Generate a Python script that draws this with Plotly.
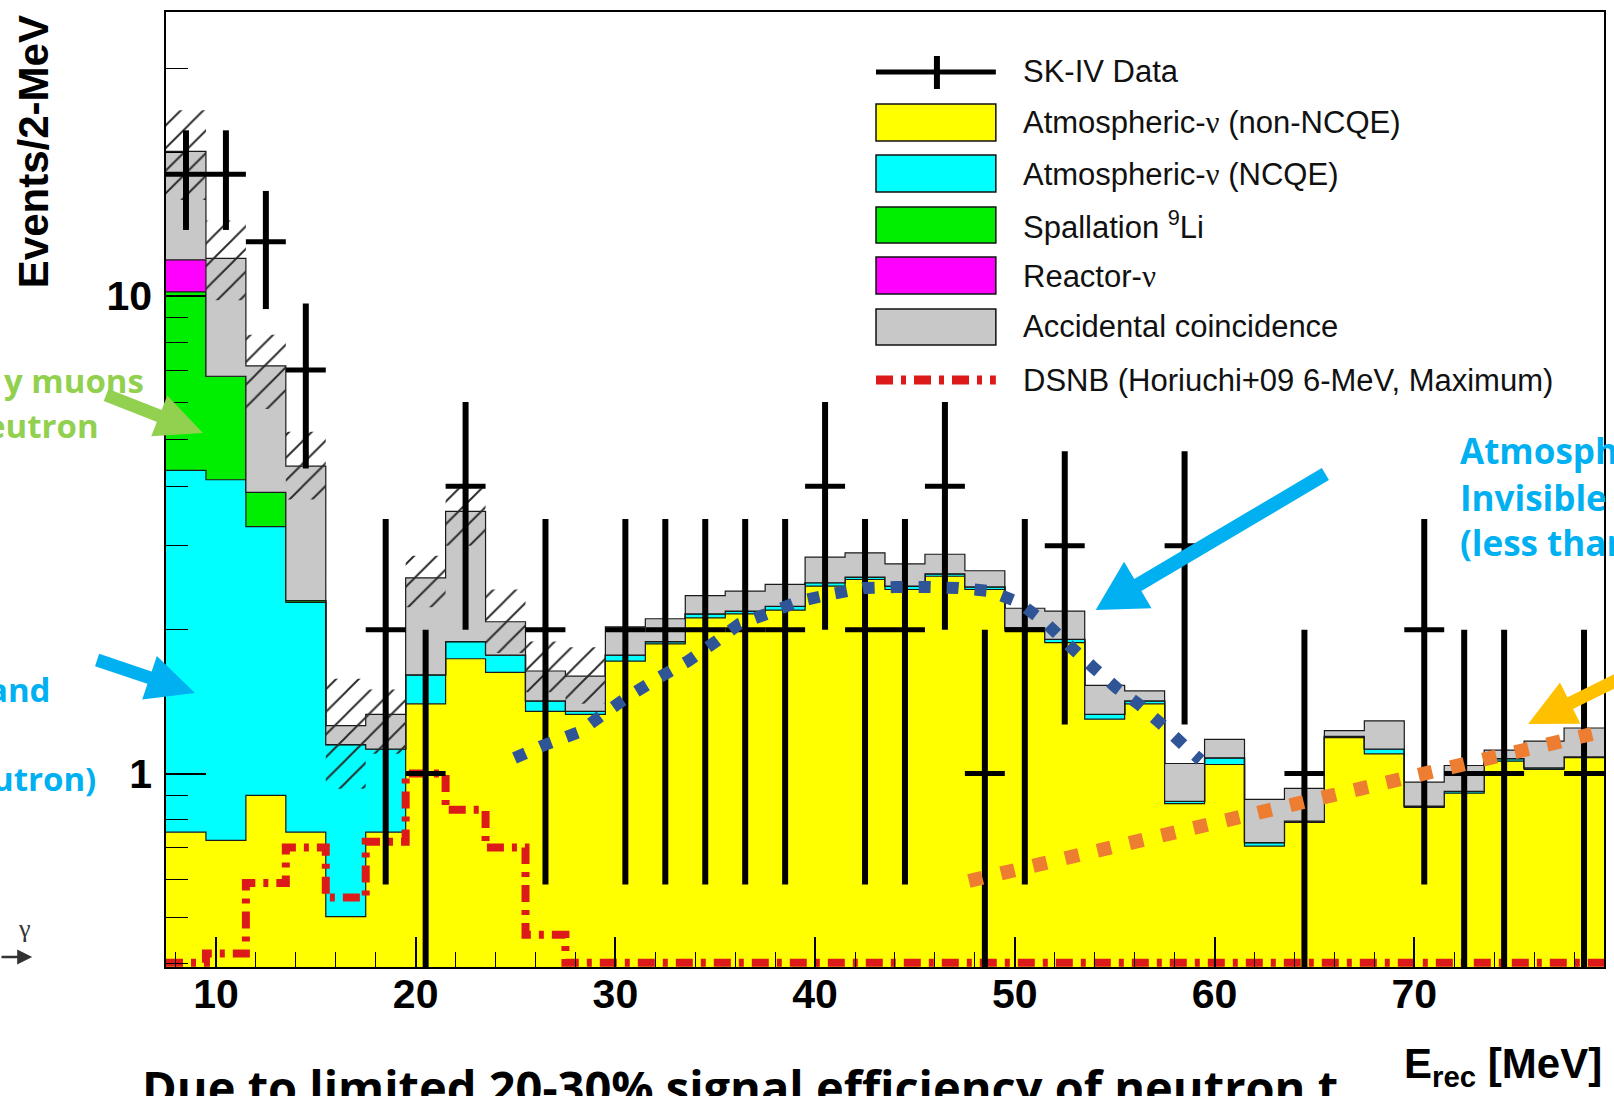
import numpy as np
import plotly.graph_objects as go

# ---------------- data: SK-IV neutron-tagged DSNB search spectrum ----------------
# reconstructed-energy bin centres [MeV], 2-MeV bins from 7.5 to 79.5 MeV
e_center = [8.5, 10.5, 12.5, 14.5, 16.5, 18.5, 20.5, 22.5, 24.5, 26.5, 28.5, 30.5,
            32.5, 34.5, 36.5, 38.5, 40.5, 42.5, 44.5, 46.5, 48.5, 50.5, 52.5, 54.5,
            56.5, 58.5, 60.5, 62.5, 64.5, 66.5, 68.5, 70.5, 72.5, 74.5, 76.5, 78.5]
BIN_HALF = 1.0

# observed events per bin
sk4_data = [18, 18, 13, 7, 0, 2, 1, 4, 0, 2, 0, 2, 2, 2, 2, 2, 4, 2, 2, 4, 1, 2, 3, 0,
            0, 3, 0, 0, 1, 0, 0, 2, 1, 1, 0, 1]

# background components (events / 2 MeV), stacked bottom -> top
atm_non_ncqe = [0.754, 0.725, 0.90, 0.754, 0.502, 0.754, 1.40, 1.74, 1.63, 1.35, 1.33, 1.72,
                1.87, 2.12, 2.16, 2.20, 2.47, 2.55, 2.43, 2.59, 2.43, 1.99, 1.88, 1.30,
                1.40, 0.865, 1.045, 0.705, 0.79, 1.19, 1.10, 0.85, 0.91, 1.062, 1.02, 1.08]
atm_ncqe = [3.56, 3.40, 2.39, 1.53, 0.648, 0.372, 0.21, 0.15, 0.14, 0.07, 0.02, 0.05,
            0.02, 0.04, 0.03, 0.04, 0.04, 0.03, 0.04, 0.03, 0.03, 0.03, 0.03, 0.03,
            0.02, 0.01, 0.034, 0.012, 0.005, 0.007, 0.026, 0.005, 0.008, 0.013, 0.008, 0.004]
spall_li9 = [5.89, 2.67, 0.59, 0.02, 0, 0, 0, 0, 0, 0, 0, 0,
             0, 0, 0, 0, 0, 0, 0, 0, 0, 0, 0, 0,
             0, 0, 0, 0, 0, 0, 0, 0, 0, 0, 0, 0]
reactor_nu = [1.7, 0, 0, 0, 0, 0, 0, 0, 0, 0, 0, 0,
              0, 0, 0, 0, 0, 0, 0, 0, 0, 0, 0, 0,
              0, 0, 0, 0, 0, 0, 0, 0, 0, 0, 0, 0]
accidental = [8.2, 5.2, 3.26, 2.1, 0.11, 0.204, 0.96, 1.65, 0.31, 0.22, 0.25, 0.26,
              0.22, 0.20, 0.22, 0.25, 0.33, 0.32, 0.28, 0.26, 0.20, 0.20, 0.28, 0.20,
              0.07, 0.175, 0.10, 0.166, 0.136, 0.033, 0.164, 0.105, 0.122, 0.045, 0.142, 0.162]

# systematic band on the total background (first 11 bins)
sys_hi = [24.5, 14.4, 8.3, 5.2, 1.58, 1.50, 2.86, 3.96, 2.43, 1.89, 1.84]
sys_lo = [15.9, 9.8, 5.8, 3.75, 0.93, 1.10, 2.23, 3.0, 1.79, 1.48, 1.40]

# DSNB expectation (Horiuchi+09, 6 MeV, maximum)
dsnb = [0.35, 0.42, 0.59, 0.70, 0.55, 0.72, 1.00, 0.84, 0.70, 0.46, 0.40, 0.30,
        0.24, 0.19, 0.15, 0.12, 0.095, 0.075, 0.06, 0.047, 0.037, 0.03, 0.024, 0.019,
        0.015, 0.012, 0.0095, 0.0075, 0.006, 0.0047, 0.0037, 0.003, 0.0024, 0.0019, 0.0015, 0.0012]

x_ticks = [10, 20, 30, 40, 50, 60, 70]
x_minor = [8, 12, 14, 16, 18, 22, 24, 26, 28, 32, 34, 36, 38, 42, 44, 46, 48,
           52, 54, 56, 58, 62, 64, 66, 68, 72, 74, 76, 78]
y_ticks = [1, 10]
y_ticktext = ["1", "10"]
y_minor = [0.4, 0.5, 0.6, 0.7, 0.8, 0.9, 2, 3, 4, 5, 6, 7, 8, 9, 20, 30]

X_RANGE = [7.5, 79.5]
Y_RANGE = [-0.405, 1.595]   # log10 of the y limits

# ---------------- geometry helpers ----------------
FIG_W, FIG_H = 1614, 1096
PL, PR, PT, PB = 166, 1606, 12, 967


def fx(x):
    return (x - PL) / (PR - PL)


def fy(y):
    return (PB - y) / (PB - PT)


edges = [c - BIN_HALF for c in e_center] + [e_center[-1] + BIN_HALF]


def step_y(vals):
    v = list(vals)
    return v + [v[-1]]


fig = go.Figure()

# ---------------- stacked backgrounds ----------------
fig.add_trace(go.Scatter(x=edges, y=[0.01] * len(edges), mode="lines",
                         line=dict(width=0), hoverinfo="skip", showlegend=False))
layers = [
    (atm_non_ncqe, "#ffff00"),
    (atm_ncqe, "#00ffff"),
    (spall_li9, "#00ee00"),
    (reactor_nu, "#ff00ff"),
    (accidental, "#c8c8c8"),
]
cum = np.zeros(len(e_center))
for vals, col in layers:
    cum = cum + np.array(vals, dtype=float)
    fig.add_trace(go.Scatter(x=edges, y=step_y(cum), mode="lines",
                             line=dict(color="#1a1a1a", width=1.2, shape="hv"),
                             fill="tonexty", fillcolor=col,
                             hoverinfo="skip", showlegend=False))

# ---------------- systematic hatch ----------------
n_sys = len(sys_hi)
fig.add_trace(go.Scatter(x=edges[:n_sys + 1], y=step_y(sys_lo), mode="lines",
                         line=dict(width=0, shape="hv"), hoverinfo="skip", showlegend=False))
fig.add_trace(go.Scatter(x=edges[:n_sys + 1], y=step_y(sys_hi), mode="lines",
                         line=dict(width=0, shape="hv"), fill="tonexty",
                         fillcolor="rgba(0,0,0,0)",
                         fillpattern=dict(shape="/", fgcolor="#2a2a2a", bgcolor="rgba(0,0,0,0)",
                                          size=16, solidity=0.12, fillmode="replace"),
                         hoverinfo="skip", showlegend=False))

# ---------------- DSNB expectation (clamped onto the frame floor) ----------------
floor = 10 ** (Y_RANGE[0] + 0.009)
dsnb_draw = [max(v, floor) for v in dsnb]
fig.add_trace(go.Scatter(x=edges, y=step_y(dsnb_draw), mode="lines",
                         line=dict(color="#dd1a1a", width=8, shape="hv",
                                   dash="17px,8px,5px,8px"),
                         hoverinfo="skip", showlegend=False))

# ---------------- data points ----------------
data_y = [v if v > 0 else None for v in sk4_data]
data_err = [float(np.sqrt(v)) if v > 0 else None for v in sk4_data]
fig.add_trace(go.Scatter(x=e_center, y=data_y, mode="markers",
                         marker=dict(color="black", size=7),
                         error_y=dict(type="data", array=data_err, color="black",
                                      thickness=6, width=0),
                         error_x=dict(type="constant", value=BIN_HALF, color="black",
                                      thickness=5, width=0),
                         hoverinfo="skip", showlegend=False))

# ---------------- shapes: legend, overlay arrows, guide curves ----------------
shapes = []


def pline(x0, y0, x1, y1, color, width, dash=None):
    ln = dict(color=color, width=width)
    if dash:
        ln["dash"] = dash
    shapes.append(dict(type="line", xref="paper", yref="paper",
                       x0=fx(x0), y0=fy(y0), x1=fx(x1), y1=fy(y1),
                       line=ln, layer="above"))


def prect(x0, y0, x1, y1, color):
    shapes.append(dict(type="rect", xref="paper", yref="paper",
                       x0=fx(x0), y0=fy(y0), x1=fx(x1), y1=fy(y1),
                       fillcolor=color, line=dict(color="#111111", width=1.5),
                       layer="above"))


def ppath(points, color, width, dash):
    d = "M " + " L ".join(f"{fx(x):.5f},{fy(y):.5f}" for x, y in points)
    shapes.append(dict(type="path", xref="paper", yref="paper", path=d,
                       line=dict(color=color, width=width, dash=dash), layer="above"))


def arrow(tail, tip, shaft_w, head_len, head_half, color):
    t = np.array(tail, float)
    p = np.array(tip, float)
    d = p - t
    d = d / np.hypot(d[0], d[1])
    n = np.array([-d[1], d[0]])
    base = p - d * head_len
    c1 = base + n * head_half
    c2 = base - n * head_half
    end = base + d * 3
    pline(t[0], t[1], end[0], end[1], color, shaft_w)
    path = (f"M {fx(p[0]):.5f},{fy(p[1]):.5f} L {fx(c1[0]):.5f},{fy(c1[1]):.5f} "
            f"L {fx(c2[0]):.5f},{fy(c2[1]):.5f} Z")
    shapes.append(dict(type="path", xref="paper", yref="paper", path=path,
                       fillcolor=color, line=dict(width=0), layer="above"))


# legend swatches
LX0, LX1 = 877, 997
pline(LX0, 72, LX1, 72, "black", 5)
pline(938, 56, 938, 89, "black", 6)
prect(LX0, 104, LX1, 141, "#ffff00")
prect(LX0, 155, LX1, 192, "#00ffff")
prect(LX0, 207, LX1, 243, "#00ee00")
prect(LX0, 257, LX1, 294, "#ff00ff")
prect(LX0, 309, LX1, 345, "#c8c8c8")
pline(LX0, 380, LX1, 380, "#dd1a1a", 9, "17px,8px,5px,8px")

# guide curves
blue_curve = [(515, 758), (545, 745), (580, 732), (604, 714), (631, 695), (659, 678),
              (689, 661), (716, 642), (740, 624), (770, 613), (801, 601), (833, 594),
              (865, 588), (896, 587), (928, 587), (959, 588), (991, 591), (1019, 602),
              (1046, 622), (1070, 645), (1094, 667), (1118, 688), (1141, 705),
              (1165, 726), (1185, 745), (1202, 760)]
ppath(blue_curve, "#2f5597", 12, "12px,16px")
ppath([(970, 881), (1594, 734)], "#ed7d31", 14, "14px,19px")

# arrows
arrow((106, 395), (203, 433), 13, 47, 22, "#92d050")
arrow((97, 660), (195, 693), 13, 48, 23, "#00b0f0")
arrow((1327, 474), (1097, 610), 14, 49, 27, "#00b0f0")
arrow((1682, 649), (1530, 724), 13, 47, 23, "#ffc000")

# ---------------- annotations ----------------
annots = []


def text(x, y, s, size, color="black", family="Liberation Sans", weight="normal",
         xanchor="left", yanchor="middle", angle=0):
    annots.append(dict(x=fx(x), y=fy(y), xref="paper", yref="paper", text=s,
                       showarrow=False, xanchor=xanchor, yanchor=yanchor, textangle=angle,
                       font=dict(family=family, size=size, color=color, weight=weight)))


nu = "<span style='font-family:Liberation Serif'>ν</span>"
legend_rows = [
    (72, "SK-IV Data"),
    (123, f"Atmospheric-{nu} (non-NCQE)"),
    (174, f"Atmospheric-{nu} (NCQE)"),
    (225, "Spallation <sup>9</sup>Li"),
    (276, f"Reactor-{nu}"),
    (327, "Accidental coincidence"),
    (380, "DSNB (Horiuchi+09 6-MeV, Maximum)"),
]
for yy, s in legend_rows:
    text(1022, yy, s, 31, color="#111111")

# axis titles
text(33, 152, "Events/2-MeV", 42, weight="bold", xanchor="center", angle=-90)
text(1606, 1066, "E<sub>rec</sub> [MeV]", 42, weight="bold", xanchor="right")

# slide call-outs
GREEN, BLUE = "#92d050", "#00b0f0"
text(146, 380, "y muons", 33, GREEN, "Open Sans", 700, xanchor="right")
text(101, 425, "eutron", 33, GREEN, "Open Sans", 700, xanchor="right")
text(53, 689, "and", 33, BLUE, "Open Sans", 700, xanchor="right")
text(98, 778, "utron)", 33, BLUE, "Open Sans", 700, xanchor="right")
text(1460, 450, "Atmospheric", 35, BLUE, "Open Sans", 700)
text(1460, 497, "Invisible", 35, BLUE, "Open Sans", 700)
text(1460, 542, "(less than", 35, BLUE, "Open Sans", 700)
text(140, 1087, "Due to limited 20-30% signal efficiency of neutron t", 47, "black",
     "Open Sans", 700)

# photon sketch at the lower left
text(24, 928, "γ", 26, "#333333", "Liberation Serif", "normal", xanchor="center")
annots.append(dict(x=fx(32), y=fy(957), xref="paper", yref="paper", text="",
                   showarrow=True, ax=-45, ay=0, arrowhead=2, arrowsize=1.2,
                   arrowwidth=2.5, arrowcolor="#333333"))

# ---------------- axes & layout ----------------
tick_font = dict(family="Liberation Sans", size=41, color="black", weight="bold")
fig.update_xaxes(range=X_RANGE, tickmode="array", tickvals=x_ticks,
                 ticks="inside", ticklen=30, tickwidth=1.5, tickcolor="black",
                 minor=dict(tickmode="array", tickvals=x_minor, ticks="inside",
                            ticklen=15, tickwidth=1.3, tickcolor="black", showgrid=False),
                 showline=True, mirror=True, linecolor="black", linewidth=1.5,
                 showgrid=False, zeroline=False, tickfont=tick_font,
                 ticklabelstandoff=-10)
fig.update_yaxes(type="log", range=Y_RANGE, tickmode="array", tickvals=y_ticks,
                 ticktext=y_ticktext, ticks="inside", ticklen=40, tickwidth=1.5,
                 tickcolor="black",
                 minor=dict(tickmode="array", tickvals=y_minor, ticks="inside",
                            ticklen=22, tickwidth=1.3, tickcolor="black", showgrid=False),
                 showline=True, mirror=True, linecolor="black", linewidth=1.5,
                 showgrid=False, zeroline=False, tickfont=tick_font,
                 ticklabelstandoff=4)

fig.update_layout(width=FIG_W, height=FIG_H,
                  margin=dict(l=PL, r=FIG_W - PR, t=PT, b=FIG_H - PB, pad=0),
                  paper_bgcolor="white", plot_bgcolor="white", showlegend=False,
                  shapes=shapes, annotations=annots)

fig.write_html("out.html")
